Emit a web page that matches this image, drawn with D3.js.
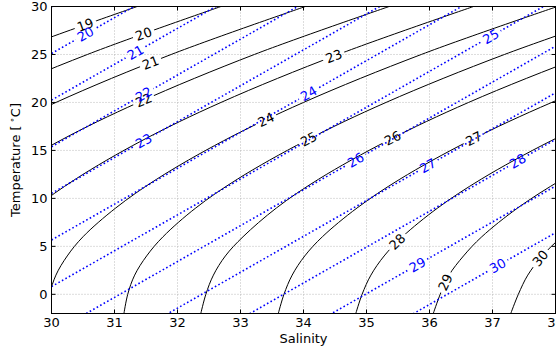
<!DOCTYPE html>
<html>
<head>
<meta charset="utf-8">
<script src="https://cdn.jsdelivr.net/npm/d3@7"></script>
<style>
  body { margin: 0; background: #fff; }
  text { font-family: "DejaVu Sans", sans-serif; }
</style>
</head>
<body>
<div id="chart"></div>
<script>
// sigma-t isolines: salinity at these temperatures
const temps = [-2, 0, 2, 4, 6, 9, 12, 16, 20, 25, 30];
const sal19 = [23.77, 23.78, 23.83, 23.96, 24.18, 24.63, 25.23, 26.22, 27.44, 29.25, 31.36];
const sal20 = [25.00, 25.02, 25.08, 25.22, 25.44, 25.91, 26.51, 27.53, 28.75, 30.57, 32.69];
const sal21 = [26.23, 26.26, 26.33, 26.48, 26.71, 27.19, 27.80, 28.83, 30.07, 31.90, 34.03];
const sal22 = [27.46, 27.50, 27.58, 27.74, 27.97, 28.46, 29.09, 30.13, 31.38, 33.22, 35.36];
const sal23 = [28.69, 28.74, 28.82, 28.99, 29.24, 29.74, 30.38, 31.43, 32.69, 34.55, 36.70];
const sal24 = [29.92, 29.97, 30.07, 30.25, 30.50, 31.02, 31.67, 32.73, 34.00, 35.87, 38.03];
const sal25 = [31.15, 31.21, 31.32, 31.51, 31.77, 32.29, 32.95, 34.03, 35.31, 37.19, 39.37];
const sal26 = [32.37, 32.45, 32.57, 32.76, 33.04, 33.57, 34.24, 35.33, 36.62, 38.52, 40.70];
const sal27 = [33.60, 33.69, 33.82, 34.02, 34.30, 34.85, 35.53, 36.63, 37.94, 39.84, 42.04];
const sal28 = [34.83, 34.93, 35.07, 35.28, 35.57, 36.13, 36.82, 37.93, 39.25, 41.17, 43.37];
const sal29 = [36.06, 36.17, 36.31, 36.54, 36.83, 37.40, 38.11, 39.23, 40.56, 42.49, 44.71];
const sal30 = [37.29, 37.41, 37.56, 37.79, 38.10, 38.68, 39.39, 40.53, 41.87, 43.81, 46.04];
const sigmaLevels = [19, 20, 21, 22, 23, 24, 25, 26, 27, 28, 29, 30];
const sigmaLines = [sal19, sal20, sal21, sal22, sal23, sal24, sal25, sal26, sal27, sal28, sal29, sal30];
// salinity where each black label sits
const sigmaLabelAt = [30.54, 31.46, 31.57, 31.46, 34.48, 33.40, 34.08, 35.41, 36.70, 35.49, 36.25, 37.76];

// linear equation of state isolines (straight): temperature at S=30 and at S=38
const linLevels = [19, 20, 21, 22, 23, 24, 25, 26, 27, 28, 29, 30];
const linT30 = [29.96, 25.10, 20.24, 15.38, 10.52, 5.66, 0.80, -4.06, -8.92, -13.78, -18.64, -23.50];
const linT38 = [59.88, 55.02, 50.16, 45.30, 40.44, 35.58, 30.72, 25.86, 21.00, 16.14, 11.28, 6.42];
const linLabelAt = [null, 30.54, 31.33, 31.46, 31.46, 34.08, 36.97, 34.83, 35.97, 37.40, 35.81, 37.08];

const xTicks = [30, 31, 32, 33, 34, 35, 36, 37, 38];
const yTicks = [0, 5, 10, 15, 20, 25, 30];

var W = 504, H = 307;
var margin = {left: 51.5, top: 6.5};

var svg = d3.select('#chart').append('svg')
    .attr('width', 556)
    .attr('height', 351);
var defs = svg.append('defs');
defs.append('clipPath').attr('id', 'plotClip')
    .append('rect').attr('width', W).attr('height', H);

var g = svg.append('g')
    .attr('transform', 'translate(' + margin.left + ',' + margin.top + ')');

var x = d3.scaleLinear().domain([30, 38]).range([0, W]);
var y = d3.scaleLinear().domain([-2, 30]).range([H, 0]);

// dotted grid
var grid = g.append('g').attr('stroke', '#aaa').attr('stroke-width', 0.8)
    .attr('stroke-dasharray', '1,2');
grid.selectAll('.gx').data(xTicks.slice(1, -1)).enter().append('line')
    .attr('x1', d => x(d)).attr('x2', d => x(d)).attr('y1', 0).attr('y2', H);
grid.selectAll('.gy').data(yTicks.slice(0, -1)).enter().append('line')
    .attr('y1', d => y(d)).attr('y2', d => y(d)).attr('x1', 0).attr('x2', W);

var plot = g.append('g').attr('clip-path', 'url(#plotClip)');
var labels = g.append('g');

var line = d3.line()
    .x(d => x(d[0]))
    .y(d => y(d[1]))
    .curve(d3.curveCatmullRom.alpha(0.5));

// put an inline label on a path and cut a gap in it under the label
function inlineLabel(path, value, targetS, colour, id) {
  var node = path.node();
  var total = node.getTotalLength();
  var tx = x(targetS);
  var best = null;
  for (var l = 0; l <= total; l += 0.5) {
    var p = node.getPointAtLength(l);
    if (p.x < 0 || p.x > W || p.y < 0 || p.y > H) continue;
    var dd = Math.abs(p.x - tx);
    if (!best || dd < best.d) best = {d: dd, l: l, p: p};
  }
  if (!best) return;
  var a = node.getPointAtLength(Math.max(0, best.l - 5));
  var b = node.getPointAtLength(Math.min(total, best.l + 5));
  var ang = Math.atan2(b.y - a.y, b.x - a.x) * 180 / Math.PI;
  if (ang > 90) ang -= 180;
  if (ang < -90) ang += 180;
  var tr = 'translate(' + best.p.x + ',' + best.p.y + ') rotate(' + ang + ')';

  var t = labels.append('text')
      .attr('transform', tr)
      .attr('text-anchor', 'middle')
      .attr('dy', '0.36em')
      .attr('font-size', 13)
      .attr('fill', colour)
      .text(value);
  var tw = t.node().getComputedTextLength();

  var m = defs.append('mask').attr('id', id)
      .attr('maskUnits', 'userSpaceOnUse')
      .attr('x', -2000).attr('y', -2000).attr('width', 5000).attr('height', 5000);
  m.append('rect').attr('x', -2000).attr('y', -2000)
      .attr('width', 5000).attr('height', 5000).attr('fill', 'white');
  m.append('rect')
      .attr('x', -tw / 2 - 3).attr('y', -8)
      .attr('width', tw + 6).attr('height', 16)
      .attr('transform', tr)
      .attr('fill', 'black');
  path.attr('mask', 'url(#' + id + ')');
}

// black sigma-t curves
sigmaLines.forEach(function(sal, i) {
  var pts = temps.map((t, j) => [sal[j], t]);
  var p = plot.append('path')
      .datum(pts)
      .attr('d', line)
      .attr('fill', 'none')
      .attr('stroke', '#000')
      .attr('stroke-width', 1);
  inlineLabel(p, sigmaLevels[i], sigmaLabelAt[i], '#000', 'mk' + sigmaLevels[i]);
});

// blue dotted linear-EOS lines
linLevels.forEach(function(v, i) {
  var pts = [[30, linT30[i]], [38, linT38[i]]];
  var p = plot.append('path')
      .datum(pts)
      .attr('d', d3.line().x(d => x(d[0])).y(d => y(d[1])))
      .attr('fill', 'none')
      .attr('stroke', '#0000ff')
      .attr('stroke-width', 1.6)
      .attr('stroke-dasharray', '1.6,2.4');
  if (linLabelAt[i] !== null) {
    inlineLabel(p, v, linLabelAt[i], '#0000ff', 'mb' + v);
  }
});

// frame and inward ticks on all sides
g.append('rect').attr('width', W).attr('height', H)
    .attr('fill', 'none').attr('stroke', '#000').attr('stroke-width', 1);

var ticks = g.append('g').attr('stroke', '#000').attr('stroke-width', 1);
xTicks.forEach(function(d) {
  ticks.append('line').attr('x1', x(d)).attr('x2', x(d)).attr('y1', H).attr('y2', H - 4);
  ticks.append('line').attr('x1', x(d)).attr('x2', x(d)).attr('y1', 0).attr('y2', 4);
});
yTicks.forEach(function(d) {
  ticks.append('line').attr('y1', y(d)).attr('y2', y(d)).attr('x1', 0).attr('x2', 4);
  ticks.append('line').attr('y1', y(d)).attr('y2', y(d)).attr('x1', W).attr('x2', W - 4);
});

g.append('g').selectAll('text').data(xTicks).enter().append('text')
    .attr('x', d => x(d))
    .attr('y', H + 13)
    .attr('text-anchor', 'middle')
    .attr('font-size', 13)
    .text(d => d);

g.append('g').selectAll('text').data(yTicks).enter().append('text')
    .attr('x', -4)
    .attr('y', d => y(d) + 4.7)
    .attr('text-anchor', 'end')
    .attr('font-size', 13)
    .text(d => d);

g.append('text')
    .attr('x', W / 2)
    .attr('y', H + 29)
    .attr('text-anchor', 'middle')
    .attr('font-size', 13)
    .text('Salinity');

var yl = svg.append('text')
    .attr('transform', 'translate(20,' + (margin.top + H / 2) + ') rotate(-90)')
    .attr('text-anchor', 'middle')
    .attr('font-size', 13);
yl.append('tspan').text('Temperature [\u2009');
yl.append('tspan').attr('dy', -5).attr('font-size', 9).text('\u2218');
yl.append('tspan').attr('dy', 5).text('C]');
</script>
</body>
</html>
